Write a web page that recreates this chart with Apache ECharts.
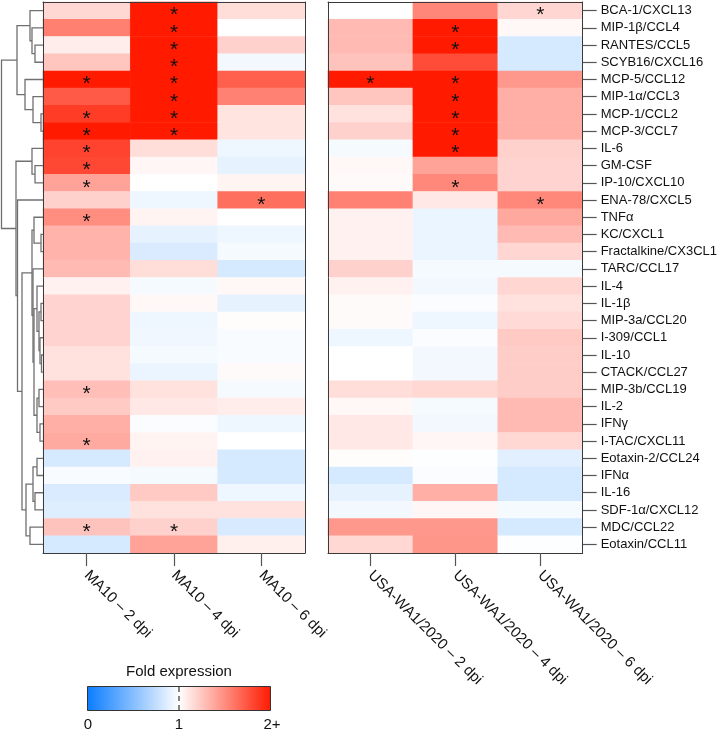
<!DOCTYPE html>
<html>
<head>
<meta charset="utf-8">
<script src="https://cdn.jsdelivr.net/npm/echarts@6/dist/echarts.min.js"></script>
<style>
html,body{margin:0;padding:0;background:#fff;}
#chart{width:720px;height:730px;}
</style>
</head>
<body>
<div id="chart"></div>
<script>
// ---------- DATA ----------
const rowLabels = ['BCA-1/CXCL13','MIP-1β/CCL4','RANTES/CCL5','SCYB16/CXCL16','MCP-5/CCL12','MIP-1α/CCL3','MCP-1/CCL2','MCP-3/CCL7','IL-6','GM-CSF','IP-10/CXCL10','ENA-78/CXCL5','TNFα','KC/CXCL1','Fractalkine/CX3CL1','TARC/CCL17','IL-4','IL-1β','MIP-3a/CCL20','I-309/CCL1','IL-10','CTACK/CCL27','MIP-3b/CCL19','IL-2','IFNγ','I-TAC/CXCL11','Eotaxin-2/CCL24','IFNα','IL-16','SDF-1α/CXCL12','MDC/CCL22','Eotaxin/CCL11'];
const ma10Cols = ['MA10 – 2 dpi','MA10 – 4 dpi','MA10 – 6 dpi'];
const wa1Cols = ['USA-WA1/2020 – 2 dpi','USA-WA1/2020 – 4 dpi','USA-WA1/2020 – 6 dpi'];

const ma10_2dpi = [1.17,1.56,1.08,1.25,2.2,1.72,1.85,2.1,1.82,1.8,1.4,1.2,1.5,1.33,1.33,1.3,1.06,1.19,1.19,1.19,1.13,1.13,1.28,1.23,1.35,1.37,0.83,0.97,0.85,0.87,1.26,0.83];
const ma10_4dpi = [2.3,2.3,2.2,2.2,2.3,2.2,2.2,2.1,1.15,1.04,1.0,0.93,1.05,0.9,0.85,1.15,0.96,1.03,0.93,0.94,0.96,0.92,1.13,1.1,0.98,1.05,1.06,0.96,1.23,1.13,1.2,1.4];
const ma10_6dpi = [1.15,1.0,1.2,0.95,1.7,1.55,1.12,1.12,0.93,0.9,1.05,1.63,1.0,0.93,0.96,0.83,1.03,0.9,1.01,0.97,0.97,1.02,0.96,1.08,0.93,1.0,0.83,0.83,0.93,1.13,0.84,1.07];
const wa1_2dpi = [1.0,1.3,1.3,1.26,2.1,1.25,1.13,1.2,0.96,1.03,1.02,1.55,1.06,1.06,1.06,1.2,1.06,1.02,1.02,0.93,1.0,1.0,1.15,1.03,1.1,1.1,1.01,0.83,0.9,0.95,1.45,1.17];
const wa1_4dpi = [1.53,2.2,2.2,1.78,2.2,2.2,2.2,2.2,2.1,1.4,1.52,1.1,0.92,0.92,0.92,0.96,0.95,0.98,0.93,0.98,0.95,0.95,1.17,0.96,0.95,1.04,0.99,0.98,1.35,1.04,1.45,1.46];
const wa1_6dpi = [1.18,1.03,0.83,0.83,1.45,1.35,1.35,1.35,1.2,1.19,1.19,1.52,1.38,1.3,1.18,0.96,1.18,1.13,1.16,1.23,1.22,1.22,1.22,1.3,1.3,1.17,0.88,0.83,0.83,0.96,0.83,0.99];

// significant cells (row indices) per column
const sigMa10 = [[4,6,7,8,9,10,12,22,25,30],[0,1,2,3,4,5,6,7,30],[11]];
const sigWa1 = [[4],[1,2,4,5,6,7,8,10],[0,11]];

// dendrogram merges: [nodeA, nodeB, height]; leaves are 0..31, merge k creates node 32+k
const merges = [
  [2,3,8],[1,32,11],[0,33,13],
  [6,7,2],[5,35,10],[4,36,18],
  [34,37,26],
  [9,10,8],[8,39,11],
  [13,14,2],[12,41,9],
  [20,21,1.5],[19,43,3],[17,18,2],[45,44,4],[16,46,6],
  [22,23,4],[24,25,3],[48,49,6],[47,50,9],[15,51,10],[42,52,11],
  [26,27,6],[28,29,8],[54,55,10],[30,31,13],[56,57,17],
  [53,58,21],[11,59,25.5],[40,60,27],[38,61,41.5]
];

// legend ticks
const legendTicks = ['0','1','2+'];
const legendTitle = 'Fold expression';

// ---------- BUILD ----------
const blue = '#0a7cff', red = '#ff1a00';
function cells(cols){
  const out=[];
  cols.forEach((arr,c)=>arr.forEach((v,r)=>out.push([c,r,v])));
  return out;
}
function stars(sig){
  const out=[];
  sig.forEach((rs,c)=>rs.forEach(r=>out.push([c,r])));
  return out;
}
const nodes = rowLabels.map((_,i)=>({h:0,c:i}));
merges.forEach(([a,b,h])=>nodes.push({h:h,c:(nodes[a].c+nodes[b].c)/2}));
const dendroData = merges.map(([a,b,h])=>[h,nodes[a].h,nodes[a].c,nodes[b].h,nodes[b].c]);

const frame = {show:true,lineStyle:{color:'#3a3a3a',width:1}};
const font = 'Liberation Sans, Arial, sans-serif';

function catX(grid,data,pos,labels){
  return {type:'category',gridIndex:grid,data:data,position:pos,z:10,
    axisLine:frame,
    axisTick:{show:labels,alignWithLabel:true,length:13,lineStyle:{color:'#555',width:1.2}},
    axisLabel:{show:labels,rotate:-45,margin:20,fontSize:15,color:'#111',fontFamily:font},
    splitLine:{show:false}};
}
function catY(grid,pos,labels){
  return {type:'category',gridIndex:grid,data:rowLabels,inverse:true,position:pos,z:10,
    axisLine:frame,
    axisTick:{show:labels,alignWithLabel:true,length:14,lineStyle:{color:'#555',width:1.2}},
    axisLabel:{show:labels,margin:18,fontSize:13,color:'#111',fontFamily:font},
    splitLine:{show:false}};
}
function starSeries(xi,yi,sig){
  return {type:'custom',xAxisIndex:xi,yAxisIndex:yi,data:stars(sig),z:6,silent:true,
    renderItem:function(params,api){
      const p=api.coord([api.value(0),api.value(1)]);
      return {type:'text',x:p[0],y:p[1]+5,z2:10,
        style:{text:'*',fontSize:21,fontFamily:font,fill:'#111',align:'center',verticalAlign:'middle'}};
    }};
}

const chart = echarts.init(document.getElementById('chart'),null,{renderer:'canvas'});
chart.setOption({
  animation:false,
  backgroundColor:'#fff',
  grid:[
    {left:43,top:2,width:262,height:551},
    {left:328,top:2,width:260,height:551},
    {left:1,top:2,width:42,height:551}
  ],
  xAxis:[
    catX(0,ma10Cols,'bottom',true),
    catX(0,ma10Cols,'top',false),
    catX(1,wa1Cols,'bottom',true),
    catX(1,wa1Cols,'top',false),
    {type:'value',gridIndex:2,min:0,max:42,inverse:true,show:false}
  ],
  yAxis:[
    catY(0,'left',false),
    catY(0,'right',false),
    catY(1,'left',false),
    catY(1,'right',true),
    {type:'value',gridIndex:2,min:-0.5,max:31.5,inverse:true,show:false}
  ],
  visualMap:{type:'continuous',show:false,min:0,max:2,dimension:2,seriesIndex:[0,1],
    inRange:{color:[blue,'#ffffff',red]}},
  series:[
    {type:'heatmap',xAxisIndex:0,yAxisIndex:0,data:cells([ma10_2dpi,ma10_4dpi,ma10_6dpi]),itemStyle:{borderWidth:0}},
    {type:'heatmap',xAxisIndex:2,yAxisIndex:3,data:cells([wa1_2dpi,wa1_4dpi,wa1_6dpi]),itemStyle:{borderWidth:0}},
    starSeries(0,0,sigMa10),
    starSeries(2,3,sigWa1),
    {type:'custom',xAxisIndex:4,yAxisIndex:4,data:dendroData,silent:true,
      renderItem:function(params,api){
        const p1=api.coord([api.value(1),api.value(2)]);
        const p2=api.coord([api.value(0),api.value(2)]);
        const p3=api.coord([api.value(0),api.value(4)]);
        const p4=api.coord([api.value(3),api.value(4)]);
        return {type:'polyline',shape:{points:[p1,p2,p3,p4]},style:{stroke:'#707070',lineWidth:1.3,fill:null}};
      }}
  ],
  graphic:[
    {type:'rect',shape:{x:87.5,y:686.5,width:183,height:24},z:10,
      style:{fill:new echarts.graphic.LinearGradient(0,0,1,0,[{offset:0,color:blue},{offset:0.5,color:'#ffffff'},{offset:1,color:red}]),stroke:'#333',lineWidth:1}},
    {type:'line',shape:{x1:179,y1:687,x2:179,y2:710},z:11,style:{stroke:'#333',lineWidth:1.2,lineDash:[5,4]}},
    {type:'text',x:179,y:672,z:11,style:{text:legendTitle,fontSize:15,fontFamily:font,fill:'#111',textAlign:'center',textVerticalAlign:'middle'}},
    {type:'text',x:88,y:725,z:11,style:{text:legendTicks[0],fontSize:15,fontFamily:font,fill:'#111',textAlign:'center',textVerticalAlign:'middle'}},
    {type:'text',x:179,y:725,z:11,style:{text:legendTicks[1],fontSize:15,fontFamily:font,fill:'#111',textAlign:'center',textVerticalAlign:'middle'}},
    {type:'text',x:272,y:725,z:11,style:{text:legendTicks[2],fontSize:15,fontFamily:font,fill:'#111',textAlign:'center',textVerticalAlign:'middle'}}
  ]
});
</script>
</body>
</html>
